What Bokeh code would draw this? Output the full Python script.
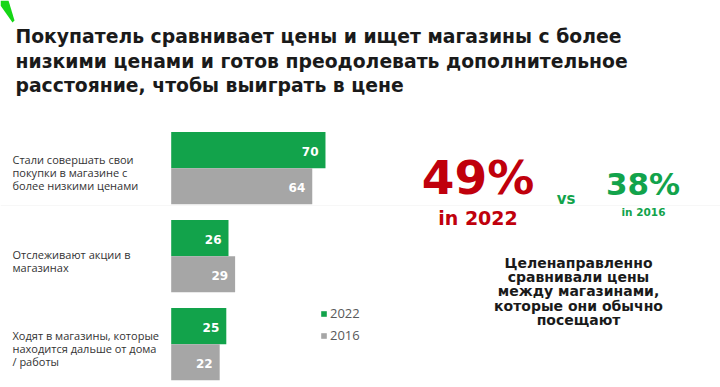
from bokeh.plotting import figure
from bokeh.models import Range1d, Label, ColumnDataSource, Legend, LegendItem, PolyAnnotation, Span
from bokeh.core.properties import value
from bokeh.embed import file_html
from bokeh.resources import INLINE

# ---- data ----
categories = [
    "Стали совершать свои\nпокупки в магазине с\nболее низкими ценами",
    "Отслеживают акции в\nмагазинах",
    "Ходят в магазины, которые\nнаходится дальше от дома\n/ работы",
]
values_2022 = [70, 26, 25]
values_2016 = [64, 29, 22]
series_names = ["2022", "2016"]
title_lines = [
    "Покупатель сравнивает цены и ищет магазины с более",
    "низкими ценами и готов преодолевать дополнительное",
    "расстояние, чтобы выиграть в цене",
]
share_2022 = "49%"
share_2016 = "38%"
share_note = "Целенаправленно\nсравнивали цены\nмежду магазинами,\nкоторые они обычно\nпосещают"

GREEN = "#12a34b"
GRAY = "#a6a6a6"
RED = "#c0000c"
FONT = "Open Sans"
BFONT = "DejaVu Sans"

W, H = 720, 387
px_per_unit = 2.204
x0_px = 170.7
x_start = -x0_px / px_per_unit
x_end = (W - x0_px) / px_per_unit

grp_px = 88.0
g0 = 167.7
y_top = (0 - g0) / grp_px
y_bot = (H - g0) / grp_px
bar_h = 0.41

p = figure(width=W, height=H, output_backend="svg", toolbar_location=None,
           x_range=Range1d(x_start, x_end), y_range=Range1d(y_bot, y_top),
           min_border=0, outline_line_color=None)
p.axis.visible = False
p.grid.visible = False
p.background_fill_color = "white"

# faint decorations
p.add_layout(Span(location=H - 205, location_units="screen", dimension="width",
                  line_color="#f7f7f7", line_width=1))
p.add_layout(PolyAnnotation(xs=[0, 8, 14, 12, 0], ys=[H, H, H - 20, H - 22, H - 5],
                            xs_units="screen", ys_units="screen",
                            fill_color="#16d616", fill_alpha=1, line_color=None))

idx = list(range(len(categories)))
src22 = ColumnDataSource(dict(y=[i - bar_h / 2 for i in idx], v=values_2022,
                              t=[str(v) for v in values_2022]))
src16 = ColumnDataSource(dict(y=[i + bar_h / 2 for i in idx], v=values_2016,
                              t=[str(v) for v in values_2016]))

r22 = p.hbar(y="y", right="v", left=0, height=bar_h, source=src22,
             fill_color=GREEN, line_color=None)
r16 = p.hbar(y="y", right="v", left=0, height=bar_h, source=src16,
             fill_color=GRAY, line_color=None)

for s in (src22, src16):
    p.text(x="v", y="y", text="t", source=s, x_offset=-7, y_offset=1,
           text_align="right", text_baseline="middle", text_color="white",
           text_font=value(BFONT), text_font_style="bold", text_font_size="12px")

# category labels
for i, c in enumerate(categories):
    p.add_layout(Label(x=12, y=i + 0.05, x_units="screen", y_units="data", text=c,
                       text_align="left", text_baseline="middle",
                       text_font=FONT, text_font_size="11px",
                       text_color="#333333", text_line_height=0.86))

SHIFT = 0.37  # em: compensates the label box below the baseline

def scr(xr, yr):
    return xr, H - yr

# title
for k, line in enumerate(title_lines):
    sx, sy = scr(15, 43 + k * 24.5 - SHIFT * 18.8)
    p.add_layout(Label(x=sx, y=sy, x_units="screen", y_units="screen",
                       text=line, text_align="left", text_baseline="alphabetic",
                       text_font=BFONT, text_font_style="bold", text_font_size="18.8px",
                       text_color="#1a1a1a"))

def add_text(xr, yr, txt, size, color):
    sx, sy = scr(xr, yr - SHIFT * size)
    p.add_layout(Label(x=sx, y=sy, x_units="screen", y_units="screen", text=txt,
                       text_align="center", text_baseline="alphabetic",
                       text_font=BFONT, text_font_style="bold",
                       text_font_size=f"{size}px", text_color=color))

add_text(477.5, 194, share_2022, 47, RED)
add_text(477.5, 225, "in " + series_names[0], 19, RED)
add_text(565.5, 204, "vs", 15, GREEN)
add_text(642.5, 195, share_2016, 31, GREEN)
add_text(643, 215, "in " + series_names[1], 10.5, GREEN)

sx, sy = scr(578, 291)
p.add_layout(Label(x=sx, y=sy, x_units="screen", y_units="screen", text=share_note,
                   text_align="center", text_baseline="middle",
                   text_font=BFONT, text_font_style="bold", text_font_size="14px",
                   text_color="#1a1a1a", text_line_height=0.89))

legend = Legend(items=[LegendItem(label=series_names[0], renderers=[r22]),
                       LegendItem(label=series_names[1], renderers=[r16])],
                location=(320, H - 344), orientation="vertical",
                glyph_width=7, glyph_height=7, label_standoff=3, spacing=4,
                padding=0, margin=0, border_line_color=None,
                background_fill_alpha=0, label_text_font=FONT,
                label_text_font_size="13px", label_text_color="#595959",
                label_height=16)
p.add_layout(legend)

open("out.html", "w").write(file_html(p, INLINE))
